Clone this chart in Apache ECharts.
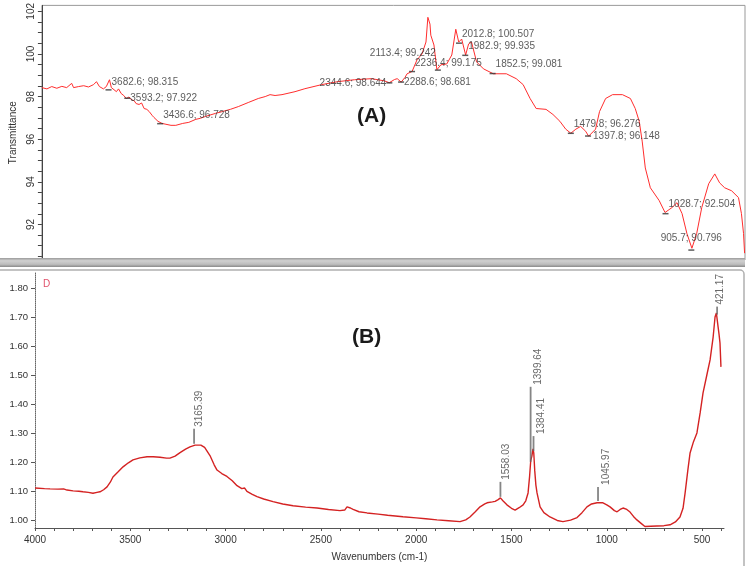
<!DOCTYPE html>
<html><head><meta charset="utf-8">
<script src="https://cdn.jsdelivr.net/npm/echarts@6/dist/echarts.min.js"></script>
<style>html,body{margin:0;padding:0;background:#fff}#c{width:749px;height:566px}</style>
</head><body><div id="c"></div>
<script>
// ---------- Panel (A): FTIR transmittance ----------
const specAWavenumber = [4000,3976,3953,3929,3905,3882,3858,3849,3825,3801,3778,3754,3740,3726,3707,3693,3678,3669,3660,3645,3635,3622,3610,3598,3585,3574,3560,3551,3537,3525,3513,3500,3489,3475,3466,3447,3428,3409,3385,3362,3329,3300,3267,3245,3220,3173,3139,3102,3064,3017,2969,2936,2913,2889,2856,2794,2747,2667,2591,2511,2430,2369,2345,2320,2307,2288,2270,2260,2236,2213,2189,2180,2170,2161,2151,2147,2132,2118,2099,2071,2047,2028,2014,2000,1981,1967,1953,1929,1896,1849,1787,1740,1707,1674,1645,1598,1565,1532,1504,1480,1456,1433,1409,1395,1362,1343,1314,1281,1234,1196,1173,1154,1140,1125,1101,1059,1031,998,974,950,927,903,880,856,823,794,771,747,714,681,667,657,652];
const specATransmittance = [98.42,98.36,98.47,98.39,98.48,98.42,98.62,98.42,98.47,98.51,98.45,98.56,98.70,98.47,98.36,98.47,98.79,98.42,98.33,98.23,98.36,98.14,98.05,97.91,97.98,97.86,97.80,97.67,97.63,97.70,97.44,97.40,97.30,97.12,97.02,96.84,96.74,96.70,96.65,96.65,96.74,96.79,96.93,96.98,97.07,97.21,97.30,97.40,97.53,97.72,97.91,98.00,98.09,98.05,98.09,98.23,98.37,98.56,98.70,98.79,98.84,98.74,98.65,98.80,98.84,98.68,98.90,99.07,99.18,99.72,100.00,100.09,100.56,101.72,101.40,100.88,100.42,99.26,99.49,99.53,99.95,101.16,100.56,100.70,99.95,100.47,100.56,99.63,99.30,99.07,99.07,98.84,98.56,97.91,97.44,97.40,97.16,96.84,96.47,96.28,96.47,96.60,96.37,96.14,96.47,97.30,97.91,98.09,98.09,97.91,97.44,96.84,95.91,94.65,93.72,93.12,92.56,92.79,93.02,92.51,91.58,90.88,91.58,92.79,93.91,94.37,93.95,93.72,93.58,93.26,92.51,91.58,90.65];
const peakAWavenumber = [3682.6,3593.2,3436.6,2344.6,2288.6,2236.4,2113.4,2012.8,1982.9,1852.5,1479.8,1397.8,1028.7,905.7];
const peakATransmittance = [98.315,97.922,96.728,98.644,98.681,99.175,99.242,100.507,99.935,99.081,96.276,96.148,92.504,90.796];
const yTicksA = [92,94,96,98,100,102];

// ---------- Panel (B): FTIR absorbance ----------
const specBWavenumber = [4000,3990,3950,3921,3880,3850,3832,3800,3770,3748,3720,3696,3675,3659,3640,3622,3605,3591,3565,3538,3510,3486,3450,3412,3380,3344,3310,3292,3265,3239,3210,3187,3160,3130,3110,3082,3060,3045,3020,2993,2965,2940,2915,2900,2888,2860,2850,2835,2800,2751,2700,2646,2580,2520,2460,2400,2375,2363,2345,2331,2300,2258,2200,2150,2069,2000,1950,1891,1830,1770,1740,1718,1690,1665,1640,1628,1600,1586,1570,1558,1545,1524,1500,1481,1460,1439,1425,1413,1405,1399,1393,1387,1383,1378,1372,1366,1350,1330,1298,1260,1230,1190,1156,1130,1104,1080,1051,1020,1000,983,960,946,930,915,895,878,860,842,820,800,770,737,700,668,640,616,600,589,575,563,545,527,510,495,475,458,442,432,425,421,416,411,406,401];
const specBAbsorbance = [1.110,1.110,1.108,1.107,1.106,1.107,1.103,1.100,1.099,1.097,1.095,1.092,1.095,1.097,1.104,1.114,1.130,1.148,1.165,1.183,1.197,1.207,1.214,1.218,1.218,1.216,1.213,1.213,1.220,1.232,1.244,1.252,1.258,1.258,1.250,1.222,1.190,1.172,1.160,1.150,1.135,1.118,1.108,1.110,1.098,1.088,1.086,1.080,1.072,1.063,1.055,1.049,1.044,1.041,1.036,1.032,1.034,1.045,1.041,1.036,1.028,1.024,1.020,1.016,1.011,1.007,1.004,1.000,0.997,0.994,1.000,1.010,1.028,1.045,1.055,1.059,1.062,1.064,1.070,1.076,1.066,1.052,1.040,1.034,1.042,1.052,1.066,1.093,1.150,1.205,1.220,1.245,1.230,1.170,1.120,1.093,1.045,1.025,1.010,0.998,0.994,0.999,1.008,1.025,1.045,1.055,1.059,1.059,1.052,1.045,1.032,1.028,1.036,1.041,1.036,1.027,1.012,1.000,0.988,0.977,0.978,0.979,0.980,0.983,0.993,1.010,1.040,1.093,1.170,1.231,1.270,1.300,1.370,1.438,1.500,1.552,1.631,1.700,1.714,1.716,1.666,1.640,1.610,1.528];
const peakBWavenumber = [3165.39,1558.03,1399.64,1384.41,1045.97,421.17];
const peakBAbsorbance = [1.259,1.076,1.197,1.234,1.062,1.705];
const yTicksB = [1.00,1.10,1.20,1.30,1.40,1.50,1.60,1.70,1.80];
const xTicksB = [4000,3500,3000,2500,2000,1500,1000,500];

// ---------- styling (not data) ----------
const FONT = 'Liberation Sans, Arial, sans-serif';
const labelPlaceA = [
  {align:'left',offset:[3,-8]},{align:'left',offset:[3,0]},{align:'left',offset:[3,-8]},
  {align:'right',offset:[-3,0]},{align:'left',offset:[3,0]},{align:'left',offset:[3,-8]},
  {align:'right',offset:[-2,-17]},{align:'left',offset:[3,-9]},{align:'left',offset:[3,-9]},
  {align:'left',offset:[3,-9]},{align:'left',offset:[3,-9]},{align:'left',offset:[5,0]},
  {align:'left',offset:[3,-9]},{align:'center',offset:[0,-12]}
];
const lineLenB = [15,15,75,15,14,8];
const labelDxB = [5,6,8,8,8,3];

const minorA = []; for (let v = 90.5; v <= 102.01; v += 0.5) minorA.push(+v.toFixed(1));
const minorXB = []; for (let v = 400; v <= 4000; v += 100) minorXB.push(v);

const chart = echarts.init(document.getElementById('c'), null, {renderer:'canvas'});
const option = {
  animation:false,
  backgroundColor:'#fff',
  textStyle:{fontFamily:FONT},
  title:[
    {text:'(A)', left:352, top:101, textStyle:{fontSize:21,fontWeight:'bold',color:'#1a1a1a',fontFamily:FONT}},
    {text:'(B)', left:347, top:322, textStyle:{fontSize:21,fontWeight:'bold',color:'#1a1a1a',fontFamily:FONT}},
    {text:'D', left:38, top:274, textStyle:{fontSize:10,fontWeight:'normal',color:'#e0506a',fontFamily:FONT}}
  ],
  graphic:[
    {type:'rect', shape:{x:0,y:258,width:745,height:9}, style:{fill:new echarts.graphic.LinearGradient(0,0,0,1,[{offset:0,color:'#9a9a9a'},{offset:0.3,color:'#d0d0d0'},{offset:0.7,color:'#bdbdbd'},{offset:1,color:'#8a8a8a'}])}, z:10},
    {type:'rect', shape:{x:-3,y:270,width:747,height:300,r:4}, style:{fill:'none',stroke:'#b0b0b0',lineWidth:1.5}, z:10}
  ],
  grid:[
    {left:35, top:3, width:710, height:257, show:true, borderColor:'#999', borderWidth:1},
    {left:35, top:273, width:689, height:255}
  ],
  xAxis:[
    {gridIndex:0, type:'value', min:650, max:4000, inverse:true, show:false},
    {gridIndex:1, type:'value', min:385, max:4000, inverse:true,
     axisLine:{show:true, lineStyle:{color:'#555',width:1}},
     axisTick:{show:true, customValues:minorXB, length:3, lineStyle:{color:'#555'}},
     axisLabel:{customValues:xTicksB, formatter:v=>String(v), fontSize:10, color:'#333', margin:7},
     splitLine:{show:false},
     name:'Wavenumbers (cm-1)', nameLocation:'middle', nameGap:24,
     nameTextStyle:{fontSize:10,color:'#333'}}
  ],
  yAxis:[
    {gridIndex:0, type:'value', min:90.33, max:102.28,
     axisLine:{show:true, lineStyle:{color:'#444'}},
     axisTick:{show:true, customValues:minorA, length:4, lineStyle:{color:'#444'}},
     axisLabel:{customValues:yTicksA, formatter:v=>String(v), rotate:90, fontSize:10, color:'#333', margin:6},
     splitLine:{show:false},
     name:'Transmittance', nameLocation:'middle', nameRotate:90, nameGap:20,
     nameTextStyle:{fontSize:10,color:'#333'}},
    {gridIndex:1, type:'value', min:0.972, max:1.852,
     axisLine:{show:true, lineStyle:{color:'#666', type:'dotted'}},
     axisTick:{show:true, customValues:yTicksB, length:4, lineStyle:{color:'#555'}},
     axisLabel:{customValues:yTicksB, formatter:v=>v.toFixed(2), fontSize:9.5, color:'#333', margin:7},
     splitLine:{show:false}}
  ],
  series:[
    {type:'line', xAxisIndex:0, yAxisIndex:0, symbol:'none', silent:true,
     data:specAWavenumber.map((w,i)=>[w,specATransmittance[i]]),
     lineStyle:{color:'#ff2d2d', width:1}},
    {type:'scatter', xAxisIndex:0, yAxisIndex:0, symbol:'rect', symbolSize:[6,1.5], z:5,
     itemStyle:{color:'#333'},
     label:{show:true, position:'inside', verticalAlign:'middle', fontSize:10, color:'#333',
            formatter:p=>p.value[0].toFixed(1)+'; '+p.value[1].toFixed(3)},
     data:peakAWavenumber.map((w,i)=>({value:[w,peakATransmittance[i]], label:labelPlaceA[i]}))},
    {type:'line', xAxisIndex:1, yAxisIndex:1, symbol:'none', silent:true,
     data:specBWavenumber.map((w,i)=>[w,specBAbsorbance[i]]),
     lineStyle:{color:'#d42222', width:1.4}},
    {type:'scatter', xAxisIndex:1, yAxisIndex:1, symbol:'rect', z:5,
     itemStyle:{color:'#666'},
     data:peakBWavenumber.map((w,i)=>({value:[w,peakBAbsorbance[i]], symbolSize:[1.8,lineLenB[i]], symbolOffset:[0,-(lineLenB[i]/2)-1]}))},
    {type:'scatter', xAxisIndex:1, yAxisIndex:1, symbol:'circle', symbolSize:1, z:6,
     itemStyle:{color:'rgba(0,0,0,0)'},
     label:{show:true, position:'inside', rotate:90, align:'left', verticalAlign:'middle', fontSize:10, color:'#444',
            formatter:p=>p.value[0].toFixed(2)},
     data:peakBWavenumber.map((w,i)=>({value:[w,peakBAbsorbance[i]], label:{offset:[lineLenB[i]+3, labelDxB[i]]}}))}
  ]
};
chart.setOption(option);
</script></body></html>
